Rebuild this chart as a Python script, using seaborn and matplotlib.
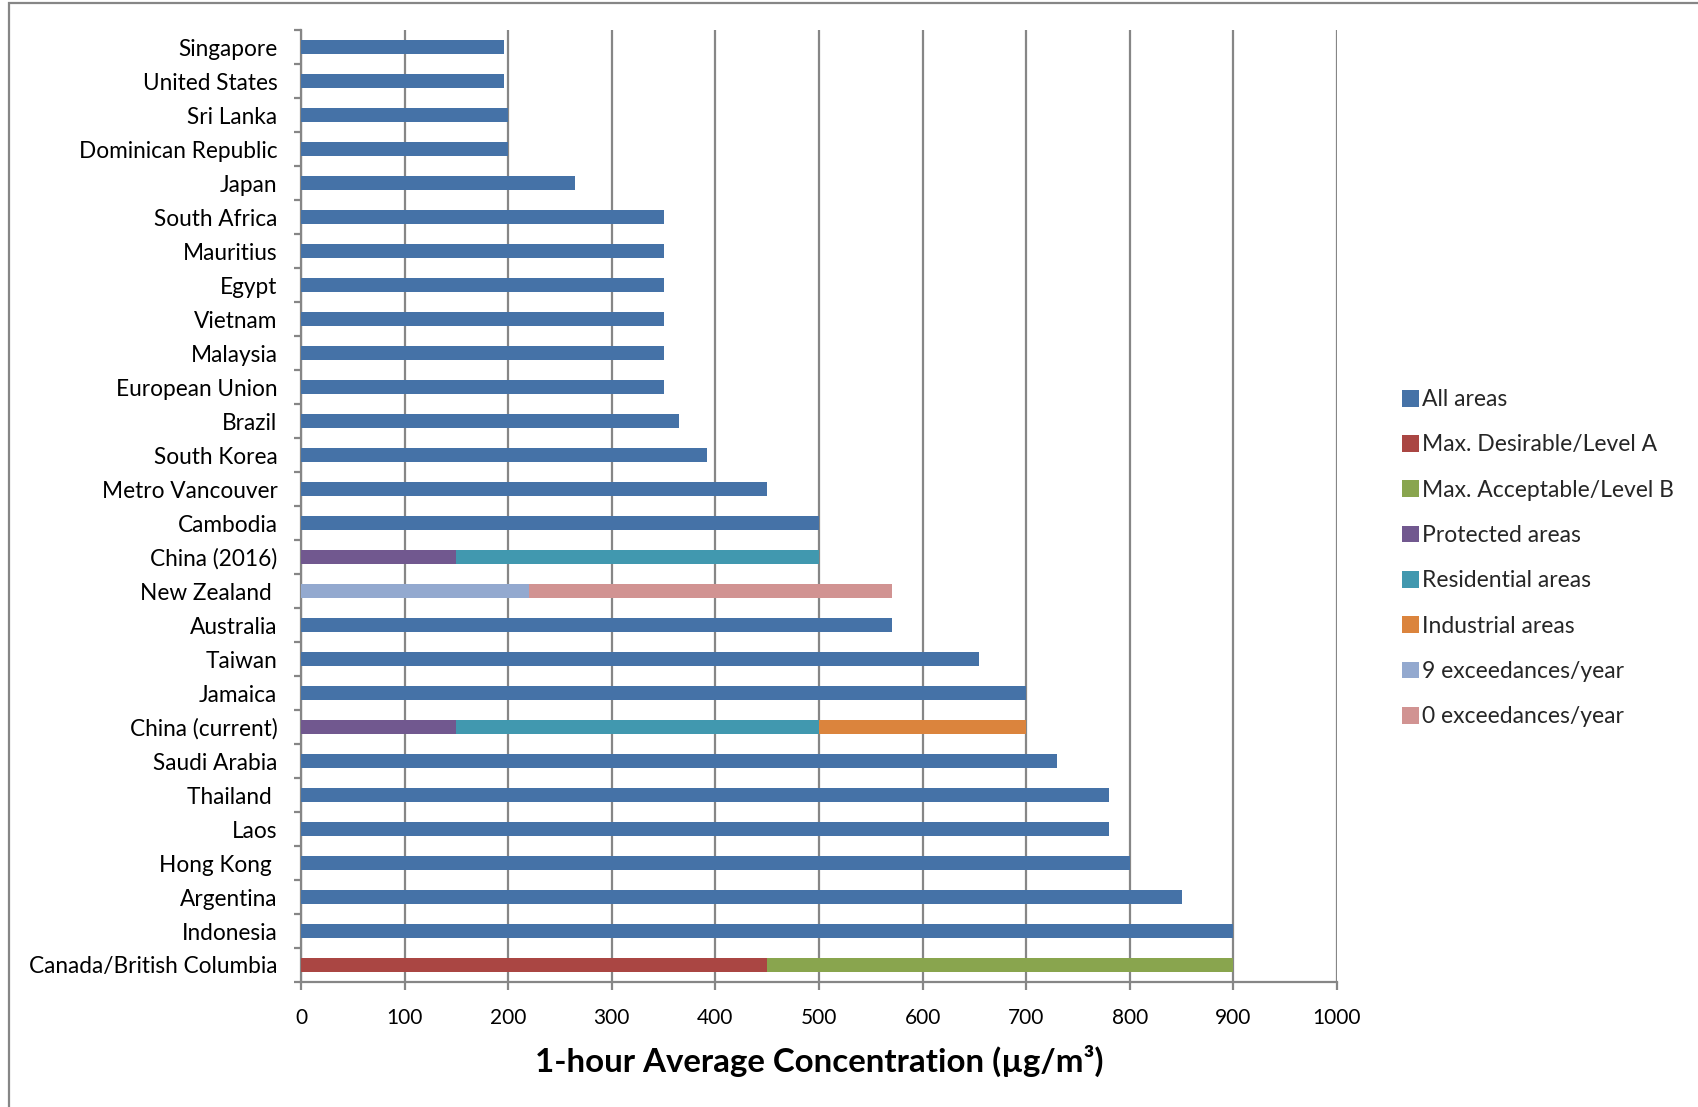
import numpy as np
import pandas as pd
import matplotlib
matplotlib.use("Agg")
import matplotlib.pyplot as plt
from matplotlib.patches import Patch, Rectangle
from matplotlib.ticker import FixedLocator, NullFormatter
import seaborn as sns

# Countries / jurisdictions, top to bottom
countries = [
    "Singapore", "United States", "Sri Lanka", "Dominican Republic", "Japan",
    "South Africa", "Mauritius", "Egypt", "Vietnam", "Malaysia",
    "European Union", "Brazil", "South Korea", "Metro Vancouver", "Cambodia",
    "China (2016)", "New Zealand ", "Australia", "Taiwan", "Jamaica",
    "China (current)", "Saudi Arabia", "Thailand ", "Laos", "Hong Kong ",
    "Argentina", "Indonesia", "Canada/British Columbia",
]

# Segment lengths (µg/m³) for each standard type; 0 = not applicable
all_areas = [196, 196, 200, 200, 264, 350, 350, 350, 350, 350, 350, 365, 392, 450,
             500, 0, 0, 570, 654, 700, 0, 730, 780, 780, 800, 850, 900, 0]
level_a = [0] * 27 + [450]
level_b = [0] * 27 + [450]
protected = [0] * 15 + [150] + [0] * 4 + [150] + [0] * 7
residential = [0] * 15 + [350] + [0] * 4 + [350] + [0] * 7
industrial = [0] * 20 + [200] + [0] * 7
exceed_9 = [0] * 16 + [220] + [0] * 11
exceed_0 = [0] * 16 + [350] + [0] * 11

series_names = [
    "All areas", "Max. Desirable/Level A", "Max. Acceptable/Level B",
    "Protected areas", "Residential areas", "Industrial areas",
    "9 exceedances/year", "0 exceedances/year",
]
series_values = [all_areas, level_a, level_b, protected, residential,
                 industrial, exceed_9, exceed_0]
series_colors = ["#4572A7", "#AA4643", "#89A54E", "#71588F",
                 "#4198AF", "#DB843D", "#93A9CF", "#D19392"]

x_ticks = list(range(0, 1001, 100))

sns.set_theme(style="white")
plt.rcParams["font.family"] = ["Lato", "DejaVu Sans"]

fig = plt.figure(figsize=(16.99, 11.07), dpi=100)
ax = fig.add_axes([301 / 1699, 1 - 982 / 1107, 1036 / 1699, 952 / 1107])

# Stacked bars: compute cumulative ends, draw from the outermost segment inwards
vals = np.array(series_values, dtype=float)
cum = np.cumsum(vals, axis=0)
grid_col = "#868686"
for i in range(len(series_names) - 1, -1, -1):
    mask = vals[i] > 0
    if not mask.any():
        continue
    df = pd.DataFrame({
        "country": np.array(countries)[mask],
        "value": cum[i][mask],
    })
    sns.barplot(data=df, x="value", y="country", order=countries, orient="h",
                color=series_colors[i], saturation=1, width=0.42, ax=ax,
                linewidth=0, zorder=3)

ax.set_xlim(0, 1000)
ax.set_ylim(len(countries) - 0.5, -0.5)
ax.xaxis.set_major_locator(FixedLocator(x_ticks))
ax.set_xticklabels([str(t) for t in x_ticks])
ax.grid(axis="x", color=grid_col, linewidth=1.6, zorder=0)
ax.grid(axis="y", visible=False)
ax.set_axisbelow(True)

for side in ["top", "right"]:
    ax.spines[side].set_visible(False)
for side in ["left", "bottom"]:
    ax.spines[side].set_color(grid_col)
    ax.spines[side].set_linewidth(1.6)

ax.yaxis.set_minor_locator(FixedLocator(np.arange(-0.5, len(countries), 1.0)))
ax.yaxis.set_minor_formatter(NullFormatter())
ax.tick_params(axis="y", which="major", length=0, pad=17, labelsize=16.3,
               labelcolor="black")
ax.tick_params(axis="y", which="minor", left=True, length=5, width=1.6,
               color=grid_col)
ax.tick_params(axis="x", which="major", bottom=True, length=6, width=1.6,
               color=grid_col, pad=13, labelsize=15, labelcolor="black")

ax.set_ylabel("")
ax.set_xlabel("1-hour Average Concentration (µg/m³)", fontsize=23.8,
              fontweight="bold", labelpad=12, color="black")

handles = [Patch(facecolor=c, edgecolor="none") for c in series_colors]
fig.legend(handles, series_names, loc="upper left",
           bbox_to_anchor=(1393 / 1699, 1 - 380 / 1107), frameon=False,
           fontsize=16.5, handlelength=0.75, handleheight=0.75,
           handletextpad=0.12, labelspacing=1.06, borderaxespad=0)

# Outer chart frame
fig.patches.append(Rectangle((9 / 1699, -0.1), 1.2, 1 - 3 / 1107 + 0.1,
                             transform=fig.transFigure, fill=False,
                             edgecolor=grid_col, linewidth=1.6))

fig.savefig("out.png", dpi=100, facecolor="white")
